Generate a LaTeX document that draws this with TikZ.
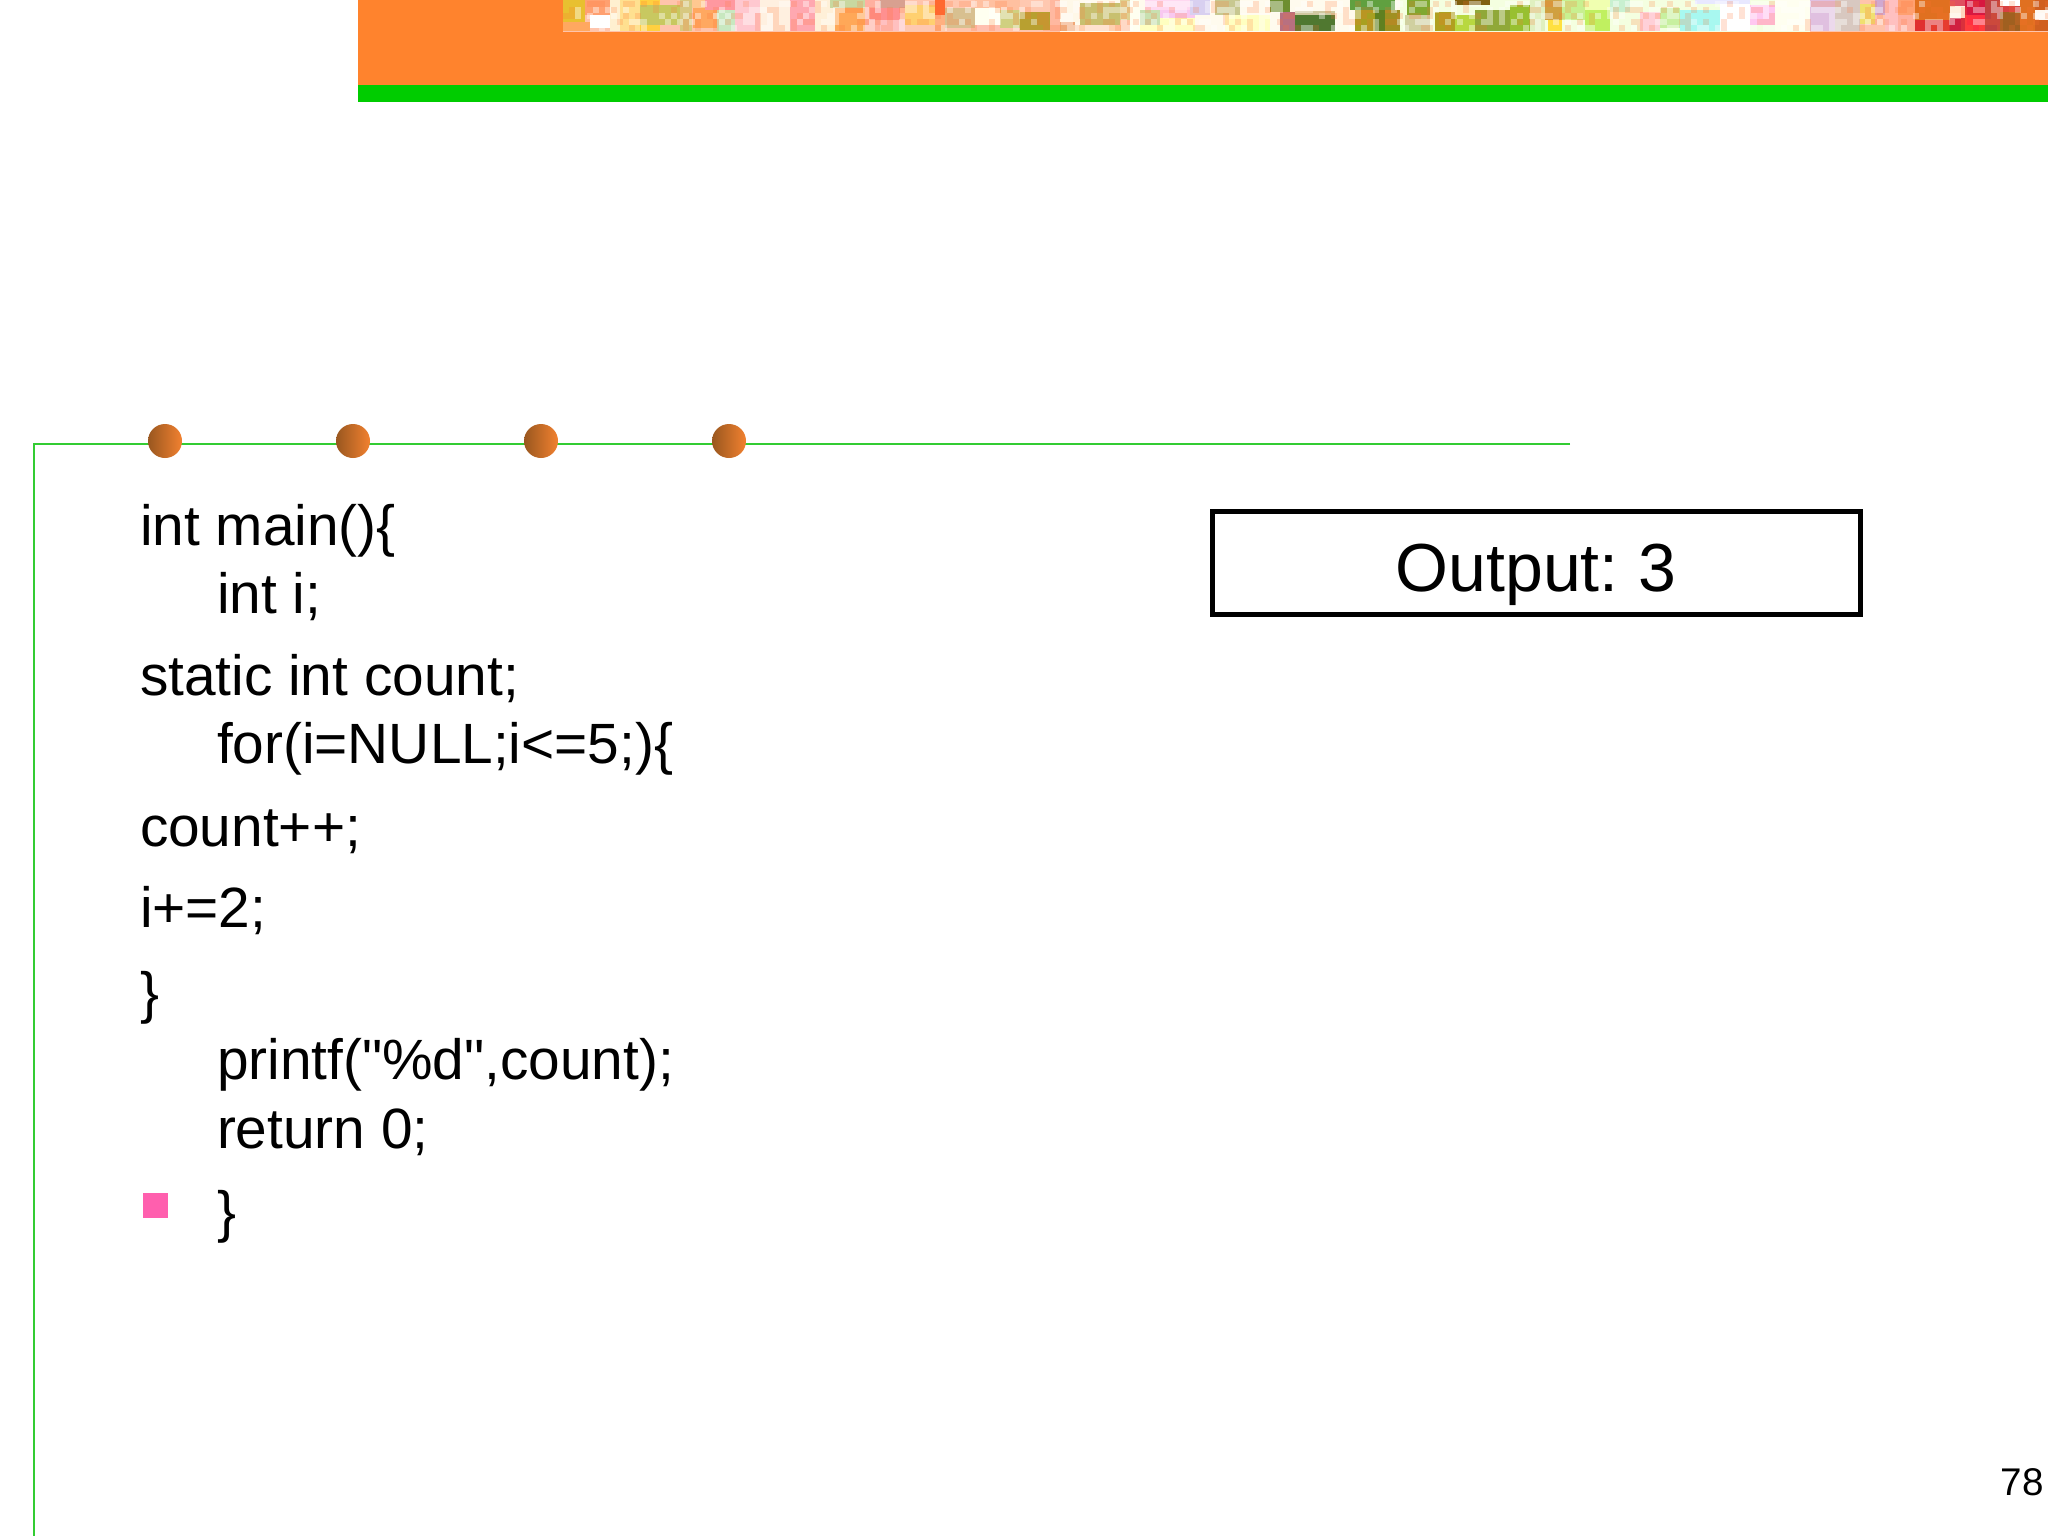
\documentclass[tikz,border=0pt]{standalone}
\usepackage{fontspec}
\setmainfont{Liberation Sans}
\newfontfamily\codefont{Liberation Sans}
\definecolor{bandorange}{HTML}{FF832D}
\definecolor{bandgreen}{HTML}{00CC00}
\definecolor{rulegreen}{HTML}{33CC33}
\definecolor{bulletpink}{HTML}{FF5FAE}
\definecolor{balldark}{HTML}{99571F}
\definecolor{balllight}{HTML}{F28130}
\definecolor{ditherwarm}{HTML}{FF7030}
\definecolor{stripa}{HTML}{FFC4AC}
\definecolor{stripb}{HTML}{FFFBEE}
\definecolor{stripc}{HTML}{F4FFE0}
\tikzset{
  codeline/.style={anchor=base west,inner sep=0pt,outer sep=0pt,font=\codefont\fontsize{28.4}{34}\selectfont},
  ball/.style={circle,minimum size=17pt,inner sep=0pt,left color=balldark,right color=balllight,draw=none},
  rulestroke/.style={draw=rulegreen,line width=1pt},
}
\begin{document}
\begin{tikzpicture}[x=0.5pt,y=-0.5pt]
\useasboundingbox (0,0) rectangle (2048,1536);
\fill[white] (0,0) rectangle (2048,1536);
% top band
\fill[bandorange] (358,0) rectangle (2048,85);
\fill[bandgreen] (358,85) rectangle (2048,102);
% picture strip
\fill[stripa] (563,0) rectangle (1060,32);
\fill[stripb] (1060,0) rectangle (1400,32);
\fill[stripc] (1400,0) rectangle (1810,32);
\fill[stripa] (1810,0) rectangle (2048,32);
\foreach \xa/\xb/\ya/\yb/\hue in {
563/585/0/22/E8C030,563/590/22/31/FFA860,585/610/0/15/FFA070,590/610/15/28/FFFFFF,
610/625/0/31/FFF0D0,620/640/0/31/FFE090,640/660/0/31/FFD040,640/680/5/25/C8C860,
680/692/0/31/D8C880,692/717/0/8/FFC890,693/717/8/28/FFA860,717/735/10/31/C8E8C0,
705/735/0/10/FF98A0,735/760/0/31/FFC8D0,760/790/0/31/FFF0E0,790/815/0/31/FFA8B0,
815/835/0/31/FFF0D8,835/865/8/31/FFA858,830/865/0/8/C8D8A0,865/880/0/31/FFB0A0,
870/900/8/20/FF9090,880/905/0/8/D8A090,880/905/20/31/FFC0C0,905/935/5/25/FFD070,905/935/25/31/FFC8B0,
935/945/0/15/FF6830,935/945/15/31/FFB080,945/975/8/28/D8C090,945/975/0/8/FFC8B0,975/1000/8/25/FFFFF0,
975/1000/0/8/FFC0A0,975/1000/25/31/FFC0B0,1000/1020/10/28/D0D080,1000/1020/0/10/FFC0A0,
1020/1050/12/30/B8A030,1020/1050/0/12/FFC8B0,1050/1060/0/31/FFB8A0,
1060/1080/0/22/FFF8E8,1060/1075/22/31/F0A878,1080/1120/3/25/C8C070,1075/1120/25/31/FFD0B0,
1120/1130/0/20/E0D090,1120/1130/20/31/FFC0A0,1130/1140/0/31/FFFFF0,1140/1160/10/25/C8E0B0,
1145/1195/0/10/FFD8F0,1160/1195/10/18/F8C8F0,1160/1195/18/31/FFFFC0,1140/1160/25/31/FFFFC0,
1190/1210/0/15/D8D0F0,1215/1240/0/15/C8C890,1225/1270/15/31/FFFFC0,
1270/1290/0/12/6E8E30,1280/1295/12/31/B87080,1295/1335/15/31/507830,1295/1335/11/15/D0C8A0,1350/1395/0/10/60A040,
1355/1375/10/31/A8A020,1375/1385/10/31/608020,1385/1400/10/31/A09020,
1407/1430/0/15/80A830,1405/1430/15/31/D0D0A0,1435/1455/12/31/B0A020,1455/1475/15/31/B8D840,
1455/1490/0/5/806010,1475/1510/10/31/90A838,1510/1530/5/31/98C030,1530/1545/0/31/E0F0C0,
1545/1562/0/20/D0A040,1548/1562/20/31/FFE040,1562/1585/0/20/C8F090,1585/1610/10/31/C0F060,
1585/1610/0/10/F0FFB0,1610/1630/0/12/C8F0D0,1640/1660/12/31/FFD0D8,1660/1680/8/28/C8F0A0,
1680/1720/10/31/A8F8F0,1720/1750/0/31/FFFFFF,1750/1775/5/25/FFC8F0,1775/1810/0/31/FFFFF0,1695/1750/0/4/E8E8FF,
1810/1835/0/31/E0C0E0,1835/1860/0/31/D8C8C0,1860/1875/4/24/F0E070,1875/1885/0/15/D0A8D0,
1885/1898/0/31/FFC0C0,1898/1915/0/15/FFA070,1898/1915/15/31/FFB0A0,1915/1950/0/20/E07020,
1915/1950/20/31/E03030,1950/1965/0/6/E05060,1950/1965/6/18/FFF0E0,1950/1965/18/31/D02040,1965/1985/0/15/D81840,
1965/1985/15/31/FF3040,1985/2000/0/31/C04040,2000/2020/12/31/A06020,2000/2020/0/6/FFFFFF,
2000/2020/6/12/D84040,2020/2035/0/31/E07020,2035/2048/0/10/D06020,2035/2048/10/20/FFF8F0,2035/2048/20/31/D06020}
  {\definecolor{cellhue}{HTML}{\hue}\fill[cellhue] (\xa,\ya) rectangle (\xb,\yb);}
% fine mottling of the strip
\pgfmathsetseed{7}
\foreach \cx in {0,...,247}{
  \foreach \cy in {0,...,4}{
    \pgfmathrandominteger{\pick}{0}{3}
    \ifnum\pick=0 \fill[white,opacity=.4] ({563+6*\cx},{1+6*\cy}) rectangle +(6,6);\fi
    \ifnum\pick=1 \fill[ditherwarm,opacity=.2] ({563+6*\cx},{1+6*\cy}) rectangle +(6,6);\fi
  }
}
% frame rules
\coordinate (ruleend) at (1570,444);
\coordinate (rulecorner) at (34,444);
\coordinate (rulefoot) at (34,1536);
\draw[rulestroke] (ruleend) -- (rulecorner) -- (rulefoot);
\foreach \n/\px in {b1/165,b2/353,b3/541,b4/729}
  \node[ball] (\n) at (\px,441) {};
% code
\node[codeline] (l1) at (140,545) {int main()\{};
\node[codeline] (l2) at (217,613) {int i;};
\node[codeline] (l3) at (140,695) {static int count;};
\node[codeline] (l4) at (217,763) {for(i=NULL;i<=5;)\{};
\node[codeline] (l5) at (140,846) {count++;};
\node[codeline] (l6) at (140,927) {i+=2;};
\node[codeline] (l7) at (140,1012) {\}};
\node[codeline] (l8) at (217,1079) {printf("\%d",count);};
\node[codeline] (l9) at (217,1148) {return 0;};
\node[codeline] (l10) at (217,1231) {\}};
\node[fill=bulletpink,inner sep=0pt,outer sep=0pt,minimum size=12.5pt] (bullet) at (155.5,1205.5) {};
% output box
\draw[line width=2.5pt,miter limit=10] (1212.5,511.5) rectangle (1860.5,614.5);
\node[anchor=base,inner sep=0pt,font=\fontsize{34}{40}\selectfont] (output) at (1536,591) {Output:\hspace{-2.6pt} 3};
% page number
\node[anchor=base east,inner sep=0pt,font=\fontsize{19.3}{23}\selectfont] (page) at (2044,1495) {78};
\end{tikzpicture}
\end{document}
